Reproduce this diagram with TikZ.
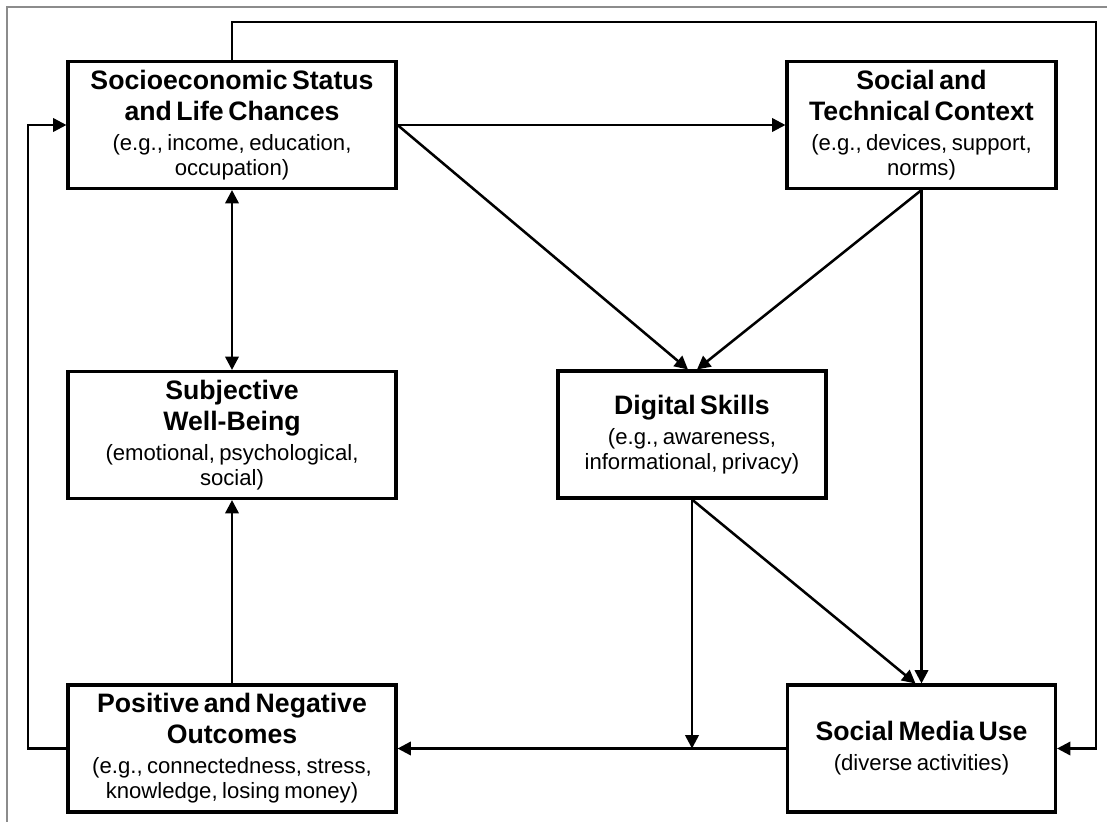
\documentclass[tikz,border=0pt]{standalone}
\usepackage{fontspec}
\setmainfont{Liberation Sans}[WordSpace=1.25]
\usetikzlibrary{arrows.meta,calc}

% title in bold, then the examples in regular weight
\newcommand\boxtext[2]{{\fontsize{20}{23.25}\selectfont\bfseries #1\par}%
  \vspace{3.6pt}{\fontsize{16.6}{18.75}\selectfont #2\par}}

\begin{document}
\begin{tikzpicture}[x=0.75pt,y=-0.75pt,
  box/.style={draw, line width=2.3pt, inner sep=0pt, align=center,
    minimum height=95.25pt},
  widebox/.style={box, minimum width=246pt, text width=240pt},
  narrowbox/.style={box, minimum width=201pt, text width=198pt},
  arr/.style={line width=1.9pt, -{Triangle[length=10pt,width=10pt]}},
  biarr/.style={line width=1.9pt, {Triangle[length=10pt,width=10pt]}-{Triangle[length=10pt,width=10pt]}},
  frame/.style={draw=black!45, line width=0.8pt}]

\useasboundingbox (0,0) rectangle (1107,822);
\fill[white] (0,0) rectangle (1107,822);
\draw[frame] (1107,7) -- (7,7) -- (7,822);

% boxes
\node[widebox] (ses) at (232,125)
  {\boxtext{Socioeconomic Status\\and Life Chances}{(e.g., income, education,\\occupation)}};
\node[narrowbox, minimum width=201.75pt] (stc) at (921.5,125)
  {\boxtext{Social and\\Technical Context}{(e.g., devices, support,\\norms)}};
\node[widebox] (swb) at (232,435)
  {\boxtext{Subjective\\Well-Being}{(emotional, psychological,\\social)}};
\node[narrowbox] (ds) at (692,434.5)
  {\boxtext{Digital Skills}{(e.g., awareness,\\informational, privacy)}};
\node[widebox] (pno) at (232,748.5)
  {\boxtext{Positive and Negative\\Outcomes}{(e.g., connectedness, stress,\\knowledge, losing money)}};
\node[narrowbox] (smu) at (921.5,748.5)
  {\boxtext{Social Media Use}{(diverse activities)}};

% routing points of the feedback loops
\coordinate (topright) at (1096,22);
\coordinate (leftside) at (28,400);
\coordinate (junction) at (ds.south |- smu.west);

% connectors
\draw[arr] (ses.east) -- (stc.west);
\draw[biarr] (ses.south) -- (swb.north);
\draw[arr] (ses.east) -- ($(ds.north)+(-4,0)$);
\draw[arr] (stc.south) -- ($(ds.north)+(5,0)$);
\draw[arr] (stc.south) -- (smu.north);
\draw[arr] (ds.south) -- ($(smu.north)+(-6,0)$);
\draw[arr] (ds.south) -- (junction);
\draw[arr] (smu.west) -- (pno.east);
\draw[arr] (pno.north) -- (swb.south);
\draw[arr] (ses.north) |- (topright) |- (smu.east);
\draw[arr] (pno.west) -| (leftside) |- (ses.west);
\end{tikzpicture}
\end{document}
